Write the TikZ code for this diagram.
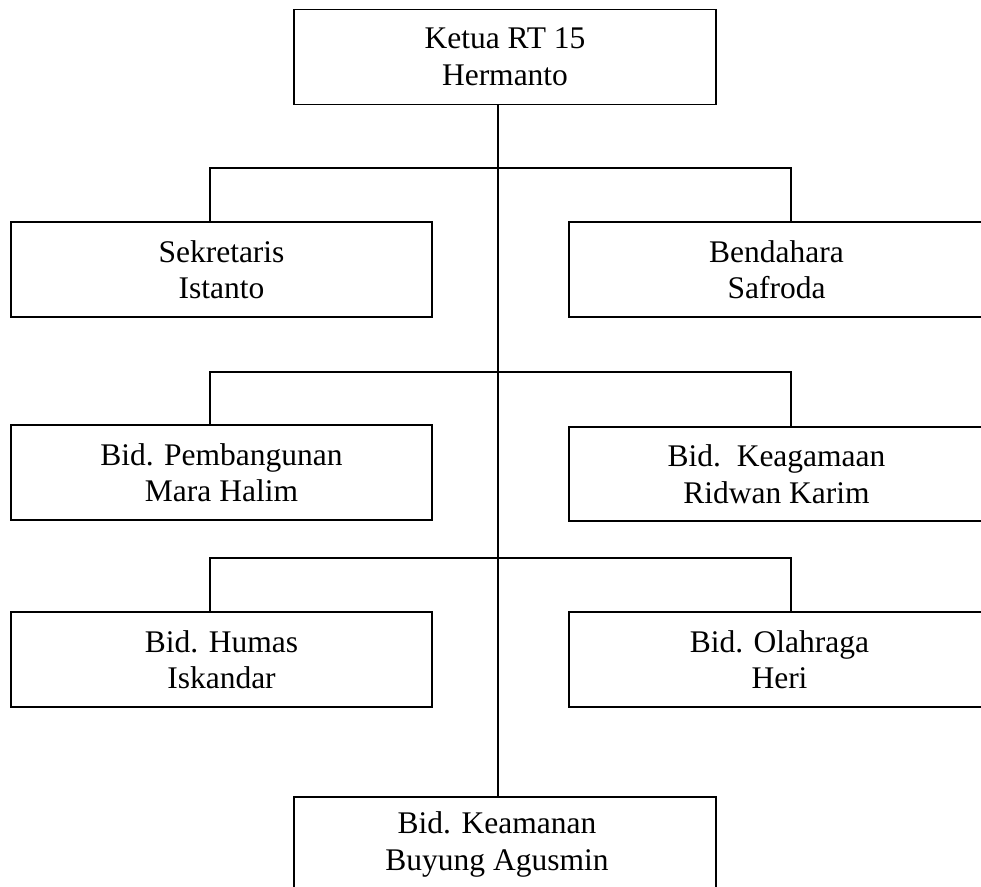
\documentclass[tikz,border=0pt]{standalone}
\usepackage{fontspec}
\setmainfont{Liberation Serif}
\begin{document}
\begin{tikzpicture}[x=1pt,y=-1pt,
  orgbox/.style={draw,line width=1.5pt,inner sep=0pt,minimum width=422pt,minimum height=95pt,
    align=center,font=\fontsize{31.5}{36.5}\selectfont},
  link/.style={line width=1.5pt}]
\useasboundingbox (0,0) rectangle (981,886);
\clip (0,0) rectangle (981,886);
\fill[white] (0,0) rectangle (981,886);
\node[orgbox] (ketua) at (505,57) {Ketua RT 15\\Hermanto};
\node[orgbox,minimum width=421pt] (sek) at (221.5,269.5) {Sekretaris\\Istanto};
\node[orgbox,minimum width=421pt] (ben) at (779.5,269.5) {\hspace*{-6pt}Bendahara\\\hspace*{-6pt}Safroda};
\node[orgbox,minimum width=421pt] (pem) at (221.5,472.5) {Bid. Pembangunan\\Mara Halim};
\node[orgbox,minimum width=421pt,minimum height=94pt] (aga) at (779.5,474) {\hspace*{-6pt}Bid.\ \ Keagamaan\\\hspace*{-6pt}Ridwan Karim};
\node[orgbox,minimum width=421pt] (hum) at (221.5,659.5) {Bid. Humas\\Iskandar};
\node[orgbox,minimum width=421pt] (ola) at (779.5,659.5) {Bid. Olahraga\\Heri};
\node[orgbox] (kea) at (505,844.5) {Bid. Keamanan\hspace*{16pt}\\Buyung Agusmin\hspace*{16pt}};
% trunk
\coordinate (trunktop) at ([xshift=-7pt]ketua.south);
\coordinate (trunkbot) at ([xshift=-7pt]kea.north);
\draw[link] (trunktop) -- (trunkbot);
% buses
\coordinate (b1) at (498,168);
\coordinate (b2) at (498,372);
\coordinate (b3) at (498,558);
\draw[link] ([xshift=-11.5pt]sek.north) |- (b1) -| ([xshift=11.5pt]ben.north);
\draw[link] ([xshift=-11.5pt]pem.north) |- (b2) -| ([xshift=11.5pt]aga.north);
\draw[link] ([xshift=-11.5pt]hum.north) |- (b3) -| ([xshift=11.5pt]ola.north);
\end{tikzpicture}
\end{document}
